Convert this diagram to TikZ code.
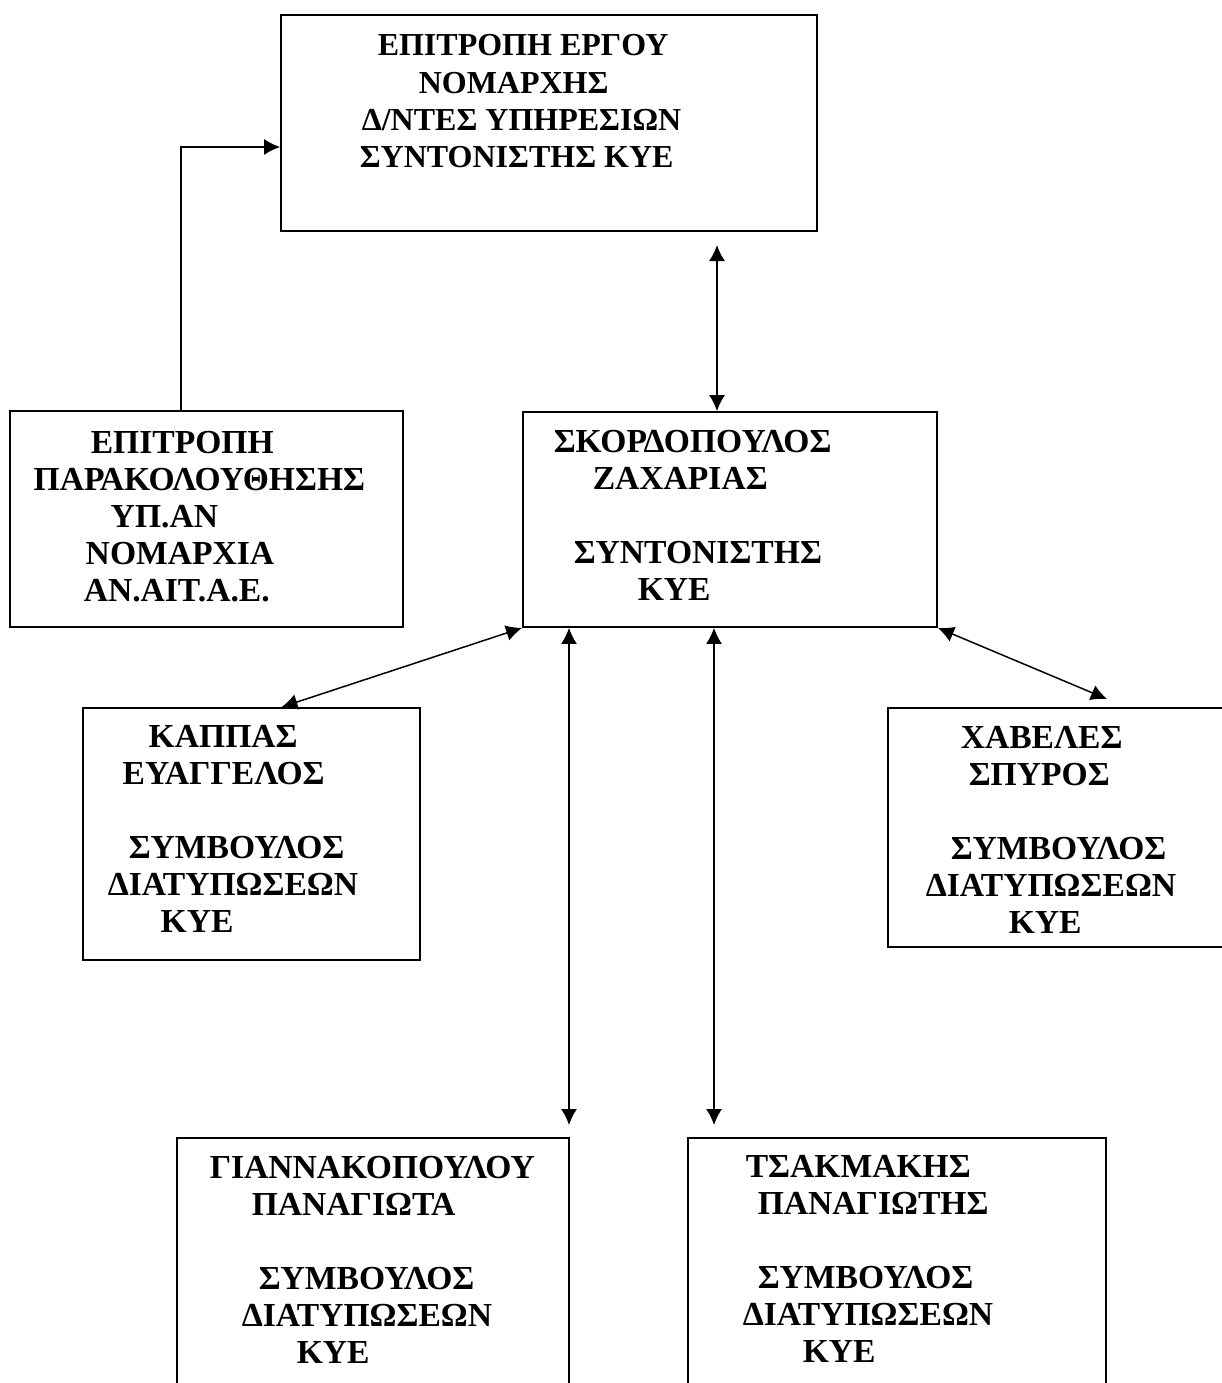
\documentclass[tikz,border=0pt]{standalone}
\usepackage{fontspec}
\setmainfont{Liberation Serif}
\usetikzlibrary{arrows.meta}
\tikzset{
  box/.style={draw, line width=0.9pt, inner sep=0pt},
  txt/.style={anchor=north west, align=left, inner sep=0pt,
    font=\fontsize{16.8}{18.5}\selectfont\bfseries},
}

\begin{document}
\begin{tikzpicture}[x=0.5pt, y=-0.5pt, >={Latex[length=8pt,width=8pt]}, line width=0.75pt]
   \useasboundingbox (0,0) rectangle (1222,1383);
   \clip (0,0) rectangle (1222,1383);

   % boxes
   \node [box, minimum width=268pt,   minimum height=108pt]   (erg)    at (549,123)    {};
   \node [box, minimum width=196.5pt, minimum height=108pt]   (parak)  at (206.5,519)  {};
   \node [box, minimum width=207pt,   minimum height=107.5pt] (skord)  at (730,519.5)  {};
   \node [box, minimum width=168.5pt, minimum height=126pt]   (kappas) at (251.5,834)  {};
   \node [box, minimum width=176pt,   minimum height=119.5pt] (chav)   at (1064,827.5) {};
   \node [box, minimum width=196pt,   minimum height=131pt]   (gian)   at (373,1269)   {};
   \node [box, minimum width=209pt,   minimum height=131pt]   (tsak)   at (897,1269)   {};

   % texts
   \node [txt, font=\fontsize{16}{18.6}\selectfont\bfseries] (ergtxt) at (359,34)
      {\hspace*{9pt}ΕΠΙΤΡΟΠΗ ΕΡΓΟΥ\\ \hspace*{29.5pt}ΝΟΜΑΡΧΗΣ\\
      \hspace*{1pt}Δ/ΝΤΕΣ ΥΠΗΡΕΣΙΩΝ\\ ΣΥΝΤΟΝΙΣΤΗΣ ΚΥΕ};
   \node [txt] (paraktxt) at (33,430) {\hspace*{28.5pt}ΕΠΙΤΡΟΠΗ\\ ΠΑΡΑΚΟΛΟΥΘΗΣΗΣ\\
      \hspace*{38.5pt}ΥΠ.ΑΝ\\ \hspace*{26pt}ΝΟΜΑΡΧΙΑ\\ \hspace*{25pt}ΑΝ.ΑΙΤ.Α.Ε.};
   \node [txt] (skordtxt) at (553,429) {ΣΚΟΡΔΟΠΟΥΛΟΣ\\ \hspace*{19.5pt}ΖΑΧΑΡΙΑΣ\\[18.5pt]
      \hspace*{10pt}ΣΥΝΤΟΝΙΣΤΗΣ\\ \hspace*{42pt}ΚΥΕ};
   \node [txt] (kappastxt) at (107,725) {\hspace*{20.5pt}ΚΑΠΠΑΣ\\ \hspace*{7.5pt}ΕΥΑΓΓΕΛΟΣ\\[18.5pt]
      \hspace*{10.5pt}ΣΥΜΒΟΥΛΟΣ\\ ΔΙΑΤΥΠΩΣΕΩΝ\\ \hspace*{26.5pt}ΚΥΕ};
   \node [txt] (chavtxt) at (925,726) {\hspace*{17.5pt}ΧΑΒΕΛΕΣ\\ \hspace*{21.5pt}ΣΠΥΡΟΣ\\[18.5pt]
      \hspace*{12.5pt}ΣΥΜΒΟΥΛΟΣ\\ ΔΙΑΤΥΠΩΣΕΩΝ\\ \hspace*{41.5pt}ΚΥΕ};
   \node [txt] (giantxt) at (209,1155) {ΓΙΑΝΝΑΚΟΠΟΥΛΟΥ\\ \hspace*{21pt}ΠΑΝΑΓΙΩΤΑ\\[18.5pt]
      \hspace*{24.5pt}ΣΥΜΒΟΥΛΟΣ\\ \hspace*{16pt}ΔΙΑΤΥΠΩΣΕΩΝ\\ \hspace*{43.5pt}ΚΥΕ};
   \node [txt] (tsaktxt) at (742,1155) {\hspace*{1.5pt}ΤΣΑΚΜΑΚΗΣ\\ \hspace*{7.5pt}ΠΑΝΑΓΙΩΤΗΣ\\[18.5pt]
      \hspace*{7.5pt}ΣΥΜΒΟΥΛΟΣ\\ ΔΙΑΤΥΠΩΣΕΩΝ\\ \hspace*{30pt}ΚΥΕ};

   % free arrow ends
   \coordinate (ergtip)  at (717,245);
   \coordinate (chavtip) at (1107,699);
   \coordinate (giantip) at (569,1125);
   \coordinate (tsaktip) at (714,1125);

   \draw [->]  ([xshift=86pt]parak.north west) |- ([yshift=-12pt]erg.west);
   \draw [<->] (ergtip) -- (ergtip |- skord.north);
   \draw [<->] (skord.south west) -- ([xshift=15pt]kappas.north);
   \draw [<->] (skord.south east) -- (chavtip);
   \draw [<->] (giantip |- skord.south) -- (giantip);
   \draw [<->] (tsaktip |- skord.south) -- (tsaktip);
\end{tikzpicture}
\end{document}
